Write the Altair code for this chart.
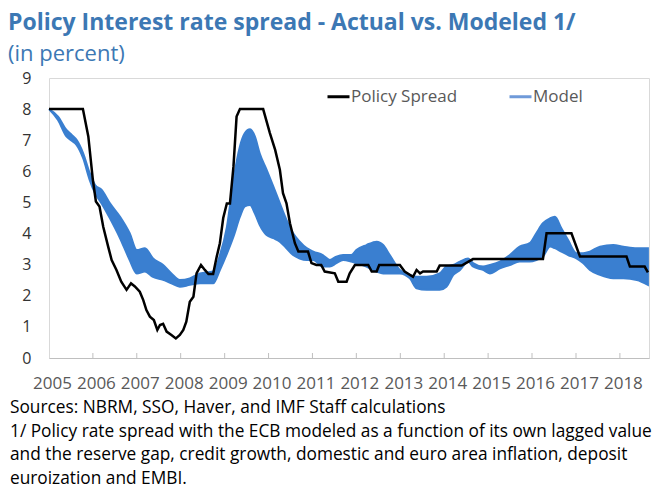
import altair as alt
import pandas as pd

# Policy rate spread vs. the ECB (percent)
policy_dates = [
    "2005-01-01", "2005-10-10", "2005-11-24", "2006-01-01", "2006-01-26", "2006-02-25",
    "2006-03-28", "2006-05-08", "2006-06-06", "2006-07-16", "2006-08-25", "2006-10-08",
    "2006-11-14", "2006-12-16", "2007-01-26", "2007-02-24", "2007-03-22", "2007-04-20",
    "2007-05-23", "2007-06-21", "2007-07-13", "2007-08-08", "2007-09-06", "2007-10-16",
    "2007-11-22", "2007-12-25", "2008-01-23", "2008-02-17", "2008-03-17", "2008-04-16",
    "2008-05-12", "2008-06-18", "2008-07-20", "2008-08-19", "2008-09-27", "2008-10-27",
    "2008-11-22", "2008-12-20", "2009-01-19", "2009-02-14", "2009-03-15", "2009-04-10",
    "2009-05-08", "2009-11-17", "2010-01-12", "2010-02-25", "2010-04-05", "2010-05-01",
    "2010-05-30", "2010-06-28", "2010-08-08", "2010-09-06", "2010-11-25", "2010-12-24",
    "2011-02-03", "2011-03-15", "2011-04-13", "2011-07-06", "2011-08-04", "2011-10-12",
    "2011-11-07", "2011-12-20", "2012-04-09", "2012-05-08", "2012-06-18", "2012-07-09",
    "2012-12-28", "2013-02-06", "2013-04-16", "2013-05-16", "2013-06-14", "2013-07-09",
    "2013-10-30", "2013-11-24", "2014-05-26", "2014-08-28", "2016-04-01", "2016-05-01",
    "2016-11-24", "2017-02-03", "2018-02-25", "2018-03-25", "2018-07-26", "2018-08-22",
]
policy_values = [
    8.00, 8.00, 7.12, 5.72, 5.03, 4.87,
    4.22, 3.58, 3.15, 2.83, 2.45, 2.19,
    2.40, 2.30, 2.13, 1.86, 1.54, 1.33,
    1.22, 0.90, 1.06, 1.10, 0.85, 0.74,
    0.63, 0.74, 0.90, 1.17, 1.81, 1.97,
    2.72, 2.99, 2.83, 2.70, 2.70, 3.26,
    3.69, 4.50, 4.97, 4.97, 6.15, 7.76,
    8.00, 8.00, 7.23, 6.69, 6.05, 5.30,
    4.97, 4.33, 3.69, 3.42, 3.42, 3.05,
    2.99, 2.99, 2.78, 2.72, 2.45, 2.45,
    2.72, 2.99, 2.99, 2.78, 2.78, 2.99,
    2.99, 2.78, 2.61, 2.83, 2.72, 2.78,
    2.78, 2.97, 2.97, 3.18, 3.18, 4.01,
    4.01, 3.26, 3.26, 2.94, 2.94, 2.75,
]

# Modeled spread: lower and upper edge of the range of model estimates
model_dates = [
    "2005-01-01", "2005-03-17", "2005-05-26", "2005-07-09", "2005-08-18", "2005-10-12",
    "2005-12-06", "2006-01-19", "2006-03-15", "2006-05-23", "2006-08-15", "2006-11-03",
    "2007-01-01", "2007-03-10", "2007-05-16", "2007-08-08", "2007-10-16", "2007-12-25",
    "2008-03-17", "2008-06-10", "2008-09-27", "2008-11-22", "2009-01-19", "2009-03-15",
    "2009-05-08", "2009-06-17", "2009-07-31", "2009-09-09", "2009-10-19", "2009-12-16",
    "2010-02-10", "2010-04-05", "2010-05-30", "2010-07-24", "2010-09-17", "2010-11-14",
    "2011-01-08", "2011-03-28", "2011-05-26", "2011-07-19", "2011-09-13", "2011-11-20",
    "2012-01-01", "2012-03-25", "2012-06-18", "2012-08-11", "2012-10-05", "2012-12-28",
    "2013-03-22", "2013-05-16", "2013-08-08", "2013-11-24", "2014-01-19", "2014-03-17",
    "2014-05-12", "2014-07-19", "2014-08-28", "2014-11-20", "2015-01-15", "2015-04-09",
    "2015-07-01", "2015-09-20", "2015-12-13", "2016-02-06", "2016-04-01", "2016-05-30",
    "2016-07-09", "2016-09-01", "2016-10-27", "2017-01-05", "2017-03-01", "2017-04-27",
    "2017-07-19", "2017-11-06", "2018-01-30", "2018-05-22", "2018-08-22",
]
model_low = [
    8.00, 7.65, 7.12, 6.98, 6.85, 6.42,
    5.72, 5.30, 4.97, 4.49, 3.85, 3.15,
    2.72, 2.78, 2.61, 2.51, 2.40, 2.29,
    2.35, 2.40, 2.40, 2.83, 3.35, 3.90,
    4.54, 4.87, 4.92, 4.65, 4.28, 3.95,
    3.85, 3.74, 3.53, 3.31, 3.20, 3.15,
    3.15, 2.94, 2.94, 3.05, 3.15, 3.10,
    3.05, 2.94, 2.78, 2.72, 2.72, 2.72,
    2.56, 2.24, 2.19, 2.19, 2.29, 2.67,
    2.83, 3.10, 2.94, 2.83, 2.72, 2.88,
    2.99, 3.10, 3.10, 3.15, 3.26, 3.58,
    3.53, 3.42, 3.31, 3.20, 3.05, 2.83,
    2.67, 2.56, 2.56, 2.51, 2.35,
]
model_high = [
    8.00, 7.76, 7.33, 7.17, 7.01, 6.58,
    5.94, 5.56, 5.40, 4.97, 4.54, 4.01,
    3.47, 3.53, 3.20, 2.99, 2.72, 2.51,
    2.56, 2.72, 2.78, 3.30, 4.20, 5.72,
    6.80, 7.22, 7.35, 7.12, 6.58, 6.05,
    5.51, 4.97, 4.44, 4.01, 3.74, 3.53,
    3.42, 3.31, 3.15, 3.26, 3.31, 3.31,
    3.47, 3.63, 3.74, 3.63, 3.31, 2.83,
    2.67, 2.61, 2.61, 2.72, 2.94, 2.99,
    3.10, 3.20, 3.05, 2.94, 2.99, 3.10,
    3.31, 3.58, 3.69, 4.01, 4.33, 4.49,
    4.54, 4.17, 3.79, 3.37, 3.37, 3.42,
    3.58, 3.63, 3.58, 3.53, 3.53,
]

year_ticks = [f"{y}-01-01" for y in range(2006, 2019)]
y_ticks = [0, 1, 2, 3, 4, 5, 6, 7, 8, 9]

title_text = "Policy Interest rate spread - Actual vs. Modeled 1/"
subtitle_text = "(in percent)"
note_lines = [
    "Sources: NBRM, SSO, Haver, and IMF Staff calculations",
    "1/ Policy rate spread with the ECB modeled as a function of its own lagged value",
    "and the reserve gap, credit growth, domestic and euro area inflation, deposit",
    "euroization and EMBI.",
]
series_names = ["Policy Spread", "Model"]

FONT = "Open Sans"
W, H = 600, 280

policy_df = pd.DataFrame({"date": policy_dates, "value": policy_values, "series": series_names[0]})
model_df = pd.DataFrame({"date": model_dates, "low": model_low, "high": model_high})
ticks_df = pd.DataFrame({"date": year_ticks})
notes_df = pd.DataFrame({"t": ["\n".join(note_lines)]})

x_scale = alt.Scale(
    type="utc",
    domain=[alt.DateTime(year=2005, month=1, date=1, utc=True),
            alt.DateTime(year=2018, month=8, date=31, utc=True)],
)
y_scale = alt.Scale(domain=[0, 9], nice=False)

x_axis = alt.Axis(
    title=None, format="%Y", tickCount="year", ticks=False, grid=False,
    labelFont=FONT, labelFontSize=17, labelColor="#595959", labelPadding=17,
    labelFlush=False, labelOverlap=False, labelOffset=3,
    domainColor="#bfbfbf", domainWidth=1,
)
y_axis = alt.Axis(
    title=None, values=y_ticks, tickCount=10, ticks=False, grid=False, domain=False,
    labelFont=FONT, labelFontSize=16, labelColor="#333333", labelPadding=18,
    labelOverlap=False, labelFlush=False,
)

band = alt.Chart(model_df).mark_area(
    color="#3a7fd0", stroke="#3a7fd0", strokeWidth=2, interpolate="monotone"
).encode(
    x=alt.X("date:T", scale=x_scale, axis=x_axis),
    y=alt.Y("low:Q", scale=y_scale, axis=y_axis),
    y2="high:Q",
)

line = alt.Chart(policy_df).mark_line(strokeWidth=2.5).encode(
    x=alt.X("date:T", scale=x_scale, axis=x_axis),
    y=alt.Y("value:Q", scale=y_scale, axis=y_axis),
    color=alt.Color(
        "series:N",
        scale=alt.Scale(domain=series_names, range=["#000000", "#6f9ad9"]),
        legend=alt.Legend(
            title=None, orient="none", legendX=277, legendY=6, direction="horizontal",
            symbolType="stroke", symbolStrokeWidth=3, symbolSize=484,
            labelFont=FONT, labelFontSize=17, labelColor="#595959", labelOffset=0,
            columnPadding=45, padding=0,
        ),
    ),
)

ticks = alt.Chart(ticks_df).mark_rule(color="#bfbfbf", strokeWidth=1).encode(
    x=alt.X("date:T", scale=x_scale, axis=x_axis),
    y=alt.value(H - 5),
    y2=alt.value(H),
)

title = alt.Chart(pd.DataFrame({"t": [title_text]})).mark_text(
    align="left", baseline="alphabetic", font=FONT, fontSize=23, fontWeight="bold",
    color="#3c78b4",
).encode(text="t:N", x=alt.value(-41), y=alt.value(-48))

subtitle = alt.Chart(pd.DataFrame({"t": [subtitle_text]})).mark_text(
    align="left", baseline="alphabetic", font=FONT, fontSize=22, color="#3c78b4",
).encode(text="t:N", x=alt.value(-41), y=alt.value(-17))

notes = alt.Chart(notes_df).mark_text(
    align="left", baseline="alphabetic", font=FONT, fontSize=17.3, color="#000000",
    lineBreak="\n", lineHeight=23.5,
).encode(text="t:N", x=alt.value(-39), y=alt.value(335))

chart = alt.layer(band, ticks, line, title, subtitle, notes).properties(
    width=W, height=H,
    autosize=alt.AutoSizeParams(type="none"),
    padding={"left": 49, "top": 78, "right": 16, "bottom": 131},
).configure_view(
    stroke="#d9d9d9", strokeWidth=1,
).configure_axisY(
    labelOverlap=False,
)

chart.save("out.html", embed_options={"renderer": "svg", "actions": False})
